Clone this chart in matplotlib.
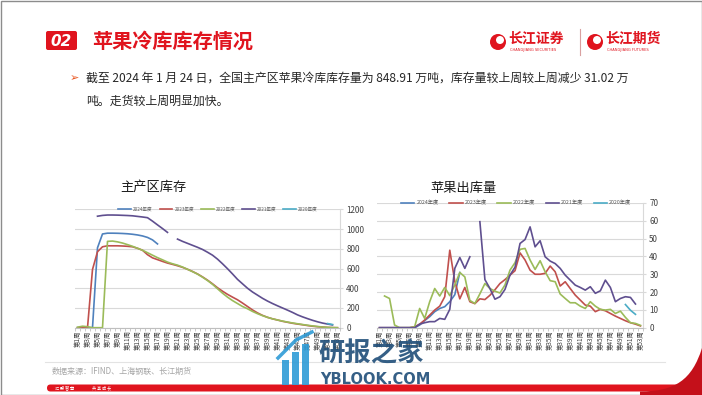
import numpy as np
import matplotlib
matplotlib.use('Agg')
import matplotlib.pyplot as plt
from matplotlib.patches import FancyBboxPatch, Rectangle, Circle, PathPatch
from matplotlib.path import Path

plt.rcParams['font.family'] = ['Noto Sans CJK SC', 'DejaVu Sans']

W, H = 702, 395

# ---- data ----
weeks = np.arange(1, 54)
week_labels = [f'第{w}周' for w in weeks]
series_names = ['2024年度', '2023年度', '2022年度', '2021年度', '2020年度']
colors = ['#4F81BD', '#C0504D', '#9BBB59', '#5F4F8F', '#4BACC6']

# 主产区库存 (万吨)
stock_2024 = [0, 0, 0, 0, 810, 950, 958, 958, 957, 955, 952, 947, 940, 930, 915, 890, 849] + [None] * 36
stock_2023 = [0, 5, 0, 590, 770, 820, 830, 830, 830, 828, 825, 820, 805, 785, 740, 708, 690, 672, 655, 642,
              628, 612, 592, 570, 545, 515, 482, 445, 405, 370, 338, 310, 283, 250, 215, 180, 150, 125, 105, 90,
              78, 65, 55, 45, 37, 30, 22, 15, 10, 6, 3, 1, 0]
stock_2022 = [5, 15, 10, 0, 0, 0, 875, 878, 870, 858, 842, 825, 805, 785, 760, 735, 710, 688, 665, 648,
              634, 615, 592, 568, 543, 512, 478, 440, 395, 350, 310, 275, 245, 215, 192, 165, 142, 122, 105, 90,
              78, 67, 57, 48, 40, 32, 25, 18, 12, 7, 3, 1, 0]
stock_2021 = [None, None, None, None, 1130, 1138, 1142, 1142, 1141, 1139, 1137, 1134, 1128, 1122, 1115, 1080,
              1042, 1005, 966, None, 898, 875, 855, 835, 815, 793, 765, 735, 695, 648, 598, 545, 490, 445, 400,
              362, 330, 298, 270, 245, 222, 200, 178, 155, 130, 110, 92, 75, 60, 47, 37, 28, None]
stock_2020 = [None] * 50 + [42, 32, None]

# 苹果出库量 (万吨)
out_2024 = [0, 0, 0, 0, 0, 0, 0, 0, 1.5, 4, 6.2, 9, 10.8, 11.8, 14.6, 18.5, 31] + [None] * 36
out_2023 = [0, 0, 0, 0, 0, 0, 0, 0.5, 2, 4.3, 7.1, 9.9, 12.1, 17.4, 43.5, 26, 16.2, 22.6, 14.6, 13.5,
            16.2, 15.8, 18.2, 21.3, 24.8, 27, 29.5, 32, 42, 38, 32.3, 30, 30, 30.5, 34.6, 31.4, 23.4, 25.8, 22,
            18.3, 15.5, 12.7, 12.1, 9, 10.3, 9.5, 8, 6.5, 5.2, 3.9, 2.8, 2, 1]
out_2022 = [None, 17.8, 16.4, 1.5, 0, 0, 0, 0.5, 10.8, 5.2, 14.6, 22, 17.8, 22.6, 18, 24, 31, 28.5, 15.3, 13.6,
            19, 24.8, 22, 20.5, 19.5, 24, 32.3, 36.5, 44, 44.5, 38, 32.7, 37.6, 31.4, 26.4, 25.8, 18.9, 16.4, 14,
            14, 12.1, 10.8, 14.6, 12.1, 10.3, 9.9, 10.3, 8, 9.3, 5.8, 2.8, 2.4, 1.3]
out_2021 = [0, 0, 0, 0, 0, 0, 0, 0, 2, 2.8, 3.4, 3.4, 5.2, 4.7, 10.3, 33.3, 39.4, 33.3, 39.8, None,
            59.5, 27, 22, 16, 17.4, 21.5, 29.5, 34, 47.3, 49.5, 56.6, 45.4, 48.8, 39.8, 37.4, 36, 33.3, 29.5,
            26.7, 23.9, 22.6, 21.1, 23, 19.3, 20.7, 26.7, 22.6, 14.6, 16.4, 17.4, 17, 13.3, None]
out_2020 = [None] * 49 + [13, 9.8, 7.5, None]

stock_series = [stock_2024, stock_2023, stock_2022, stock_2021, stock_2020]
out_series = [out_2024, out_2023, out_2022, out_2021, out_2020]

fig = plt.figure(figsize=(W / 100, H / 100), dpi=100)

# background / page decorations in pixel coordinates
bg = fig.add_axes([0, 0, 1, 1])
bg.set_xlim(0, W)
bg.set_ylim(H, 0)
bg.axis('off')

red = '#E0141E'
bg.add_patch(Rectangle((0.5, 0.5), W - 1, H - 1, fill=False, ec='#8C8C8C', lw=1))
bg.add_patch(FancyBboxPatch((46, 31), 31, 19, boxstyle='round,pad=0,rounding_size=2', fc=red, ec='none'))
bg.text(61.5, 41, '02', color='white', fontsize=11, fontweight='bold', style='italic',
        ha='center', va='center', family='DejaVu Sans')
bg.text(92, 41, '苹果冷库库存情况', color=red, fontsize=14.5, fontweight='bold', ha='left', va='center')

# logos
for cx, name, sub, tx in [(498, '长江证券', 'CHANGJIANG SECURITIES', 508), (595, '长江期货', 'CHANGJIANG FUTURES', 605)]:
    bg.add_patch(Circle((cx, 42), 8, fc=red, ec='none'))
    bg.add_patch(Circle((cx + 2, 40), 4, fc='white', ec='none'))
    bg.text(tx, 38, name, color=red, fontsize=10, fontweight='bold', ha='left', va='center')
    bg.text(tx + 2, 50, sub, color=red, fontsize=2.6, ha='left', va='center', family='DejaVu Sans')
bg.plot([580, 580], [29, 55], color='#D9A0A0', lw=0.8)

# bullet text
bg.text(70, 78, '➢', color='#E8541E', fontsize=8, ha='left', va='center', family='DejaVu Sans')
bg.text(86, 78, '截至 2024 年 1 月 24 日，全国主产区苹果冷库库存量为 848.91 万吨，库存量较上周较上周减少 31.02 万',
        color='#262626', fontsize=8.6, ha='left', va='center')
bg.text(86, 101, '吨。走货较上周明显加快。', color='#262626', fontsize=8.6, ha='left', va='center')

# chart titles
bg.text(153, 187, '主产区库存', fontsize=9.5, ha='center', va='center', color='#1A1A1A')
bg.text(463, 188, '苹果出库量', fontsize=9.5, ha='center', va='center', color='#1A1A1A')

# bottom
bg.plot([45, 665], [362, 362], color='#E3E3E3', lw=0.8)
bg.text(52, 371, '数据来源：IFIND、上海钢联、长江期货', fontsize=5.8, color='#A6A6A6', ha='left', va='center')
bg.add_patch(FancyBboxPatch((47, 384.5), 640, 7, boxstyle='round,pad=0,rounding_size=3.5', fc=red, ec='none'))
swoosh = Path([(640, 391.5), (675, 391.5), (692, 380), (702, 348), (702, 360), (702, 395), (640, 395), (640, 391.5)],
              [Path.MOVETO, Path.CURVE4, Path.CURVE4, Path.CURVE4, Path.LINETO, Path.LINETO, Path.LINETO, Path.CLOSEPOLY])
bg.add_patch(PathPatch(swoosh, fc='#C4101A', ec='none'))
bg.text(55, 388, '汇 聚 智 慧', fontsize=3, color='white', ha='left', va='center')
bg.text(92, 388, '共 享 成 长', fontsize=3, color='white', ha='left', va='center')


def style_axes(ax, ymax, ystep):
    ax.set_facecolor('none')
    ax.set_xlim(0.6, 53.4)
    ax.set_ylim(0, ymax)
    ax.set_yticks(np.arange(0, ymax + 1, ystep))
    ax.yaxis.tick_right()
    ax.grid(axis='y', color='#D9D9D9', lw=0.8)
    ax.set_axisbelow(True)
    for s in ['top', 'left']:
        ax.spines[s].set_visible(False)
    ax.spines['bottom'].set_color('#BFBFBF')
    ax.spines['right'].set_color('#D9D9D9')
    ax.set_xticks(weeks[::2])
    ax.set_xticklabels(week_labels[::2], rotation=90, fontsize=4.6, color='#404040')
    ax.set_xticks(np.arange(0.5, 54, 1), minor=True)
    ax.tick_params(axis='x', which='major', length=0, pad=2)
    ax.tick_params(axis='x', which='minor', length=2, color='#BFBFBF')
    ax.tick_params(axis='y', length=2.5, color='#D9D9D9', labelsize=5.8, labelcolor='#404040', pad=2)


def add_legend(ax, xc, fs, hl, cs):
    ax.legend(loc='center', bbox_to_anchor=(xc, 1.0), ncol=5, frameon=False, fontsize=fs,
              handlelength=hl, handletextpad=0.4, columnspacing=cs, borderaxespad=0,
              labelcolor='#595959')


def px_axes(x0, y0, x1, y1):
    return fig.add_axes([x0 / W, 1 - y1 / H, (x1 - x0) / W, (y1 - y0) / H])


ax1 = px_axes(75, 209.3, 340, 327.7)
for name, vals, c in zip(series_names, stock_series, colors):
    ax1.plot(weeks, np.array(vals, dtype=float), color=c, lw=1.2, label=name)
style_axes(ax1, 1200, 200)
add_legend(ax1, 0.54, 3.3, 2.8, 1.5)

ax2 = px_axes(377, 203, 643, 327.7)
for name, vals, c in zip(series_names, out_series, colors):
    ax2.plot(weeks, np.array(vals, dtype=float), color=c, lw=1.2, label=name)
style_axes(ax2, 70, 10)
add_legend(ax2, 0.524, 3.8, 2.5, 2.0)

# watermark
wm = fig.add_axes([0, 0, 1, 1])
wm.set_xlim(0, W)
wm.set_ylim(H, 0)
wm.axis('off')
for bx, top in [(282, 360), (292, 352), (302, 344)]:
    wm.add_patch(Rectangle((bx, top), 7, 385 - top, fc='#2E9BD6', ec='none', alpha=0.9))
wm.plot([278, 296, 312], [358, 340, 332], color='#2E9BD6', lw=2.5, alpha=0.9)
wm.text(318, 354, '研报之家', fontsize=19, fontweight='bold', color='#1F4E79', ha='left', va='center', alpha=0.9)
wm.text(320, 380, 'YBLOOK.COM', fontsize=10.5, fontweight='bold', color='#1F4E79', ha='left', va='center',
        alpha=0.9, family='DejaVu Sans')

fig.savefig('out.png', dpi=100)
